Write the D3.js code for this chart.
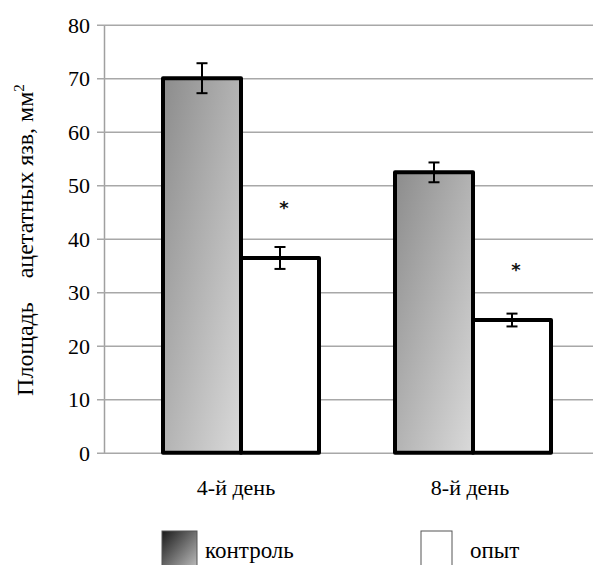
<!DOCTYPE html>
<html>
<head>
<meta charset="utf-8">
<script src="https://cdn.jsdelivr.net/npm/d3@7"></script>
</head>
<body style="margin:0">
<svg width="595" height="565"></svg>
<script>
// data
const days = ['4-й день', '8-й день'];
const groups = ['контроль', 'опыт'];
const controlValues = [70, 52.4];
const controlErrors = [2.8, 1.85];
const experimentValues = [36.4, 24.8];
const experimentErrors = [2.05, 1.2];
const yTicks = [0, 10, 20, 30, 40, 50, 60, 70, 80];
const significant = [true, true];

const serif = 'Liberation Serif';

const rows = days.map((day, i) => ({
    day,
    bars: [
        { group: groups[0], value: controlValues[i], err: controlErrors[i] },
        { group: groups[1], value: experimentValues[i], err: experimentErrors[i] }
    ],
    star: significant[i]
}));

const svg = d3.select('svg');
const plot = { left: 104, right: 593, top: 24.7, bottom: 452.7 };

const defs = svg.append('defs');
const barGrad = defs.append('linearGradient').attr('id', 'barGrad')
    .attr('x1', 0).attr('y1', 0).attr('x2', 1).attr('y2', 1);
barGrad.append('stop').attr('offset', '0%').attr('stop-color', '#8c8c8c');
barGrad.append('stop').attr('offset', '100%').attr('stop-color', '#dadada');
const legGrad = defs.append('linearGradient').attr('id', 'legGrad')
    .attr('x1', 0).attr('y1', 0).attr('x2', 1).attr('y2', 1);
legGrad.append('stop').attr('offset', '0%').attr('stop-color', '#1a1a1a');
legGrad.append('stop').attr('offset', '100%').attr('stop-color', '#c4c4c4');

//Scales
const yScale = d3.scaleLinear()
    .domain([0, 80])
    .range([plot.bottom, plot.top]);

const x0 = d3.scaleBand()
    .domain(days)
    .range([125, 589]);

const x1 = d3.scaleBand()
    .domain(groups)
    .range([38, x0.bandwidth() - 38]);

//Gridlines and y axis
const yAxis = d3.axisLeft(yScale)
    .tickValues(yTicks)
    .tickSize(-(plot.right - plot.left))
    .tickSizeOuter(0)
    .tickPadding(14);

const yAxisG = svg.append('g')
    .attr('transform', `translate(${plot.left},0)`)
    .call(yAxis);
yAxisG.attr('font-family', null);
yAxisG.select('.domain').attr('stroke', '#a0a0a0').attr('stroke-width', 1.5);
yAxisG.selectAll('.tick line').attr('stroke', '#a8a8a8').attr('stroke-width', 1.5)
    .attr('x1', -7);
yAxisG.selectAll('.tick text')
    .attr('fill', '#000')
    .attr('dy', '0.35em')
    .style('font-family', serif)
    .style('font-size', '22px');

//Bars
const dayG = svg.selectAll('.day').data(rows)
    .enter().append('g').attr('class', 'day')
    .attr('transform', d => `translate(${x0(d.day)},0)`);

dayG.selectAll('rect').data(d => d.bars)
    .enter().append('rect')
    .attr('x', d => x1(d.group))
    .attr('y', d => yScale(d.value))
    .attr('width', x1.bandwidth())
    .attr('height', d => yScale(0) - yScale(d.value))
    .attr('fill', d => d.group === groups[0] ? 'url(#barGrad)' : '#fff')
    .attr('stroke', '#000')
    .attr('stroke-width', 4)
    .attr('stroke-linejoin', 'round');

//Error bars
const errG = dayG.selectAll('.err').data(d => d.bars)
    .enter().append('g').attr('class', 'err')
    .attr('transform', d => `translate(${x1(d.group) + x1.bandwidth() / 2},0)`);

errG.append('line')
    .attr('y1', d => yScale(d.value + d.err))
    .attr('y2', d => yScale(d.value - d.err))
    .attr('stroke', '#000').attr('stroke-width', 2);
errG.append('line')
    .attr('x1', -5.5).attr('x2', 5.5)
    .attr('y1', d => yScale(d.value + d.err))
    .attr('y2', d => yScale(d.value + d.err))
    .attr('stroke', '#000').attr('stroke-width', 2);
errG.append('line')
    .attr('x1', -5.5).attr('x2', 5.5)
    .attr('y1', d => yScale(d.value - d.err))
    .attr('y2', d => yScale(d.value - d.err))
    .attr('stroke', '#000').attr('stroke-width', 2);

//Asterisks over the experiment bars
dayG.filter(d => d.star).append('text')
    .attr('x', x1(groups[1]) + x1.bandwidth() / 2 + 4)
    .attr('y', d => yScale(d.bars[1].value) - 44)
    .attr('text-anchor', 'middle')
    .attr('fill', '#111')
    .style('font-family', 'DejaVu Sans')
    .style('font-weight', 'bold')
    .style('font-size', '18px')
    .text('*');

//Category labels
svg.selectAll('.cat').data(days)
    .enter().append('text').attr('class', 'cat')
    .attr('x', (d, i) => x0(d) + x0.bandwidth() / 2 + (i === 0 ? -5 : -3))
    .attr('y', 495)
    .attr('text-anchor', 'middle')
    .style('font-family', serif)
    .style('font-size', '22px')
    .text(d => d);

//Axis label
const yLabel = svg.append('text')
    .attr('transform', 'rotate(-90)')
    .attr('x', -240)
    .attr('y', 33)
    .attr('text-anchor', 'middle')
    .style('font-family', serif)
    .style('font-size', '24px')
    .style('white-space', 'pre');
yLabel.append('tspan').text('Площадь    ацетатных язв, мм');
yLabel.append('tspan').attr('dy', -9).style('font-size', '15px').text('2');

//Legend
const legend = [
    { name: groups[0], x: 162, fill: 'url(#legGrad)' },
    { name: groups[1], x: 421, fill: '#fff' }
];
const legG = svg.selectAll('.leg').data(legend)
    .enter().append('g').attr('class', 'leg')
    .attr('transform', d => `translate(${d.x},531)`);
legG.append('rect')
    .attr('width', d => d.name === groups[0] ? 35 : 31)
    .attr('height', 40)
    .attr('fill', d => d.fill)
    .attr('stroke', '#555').attr('stroke-width', 1);
legG.append('text')
    .attr('x', d => d.name === groups[0] ? 43 : 49)
    .attr('y', 27)
    .style('font-family', serif)
    .style('font-size', '23px')
    .text(d => d.name);
</script>
</body>
</html>
